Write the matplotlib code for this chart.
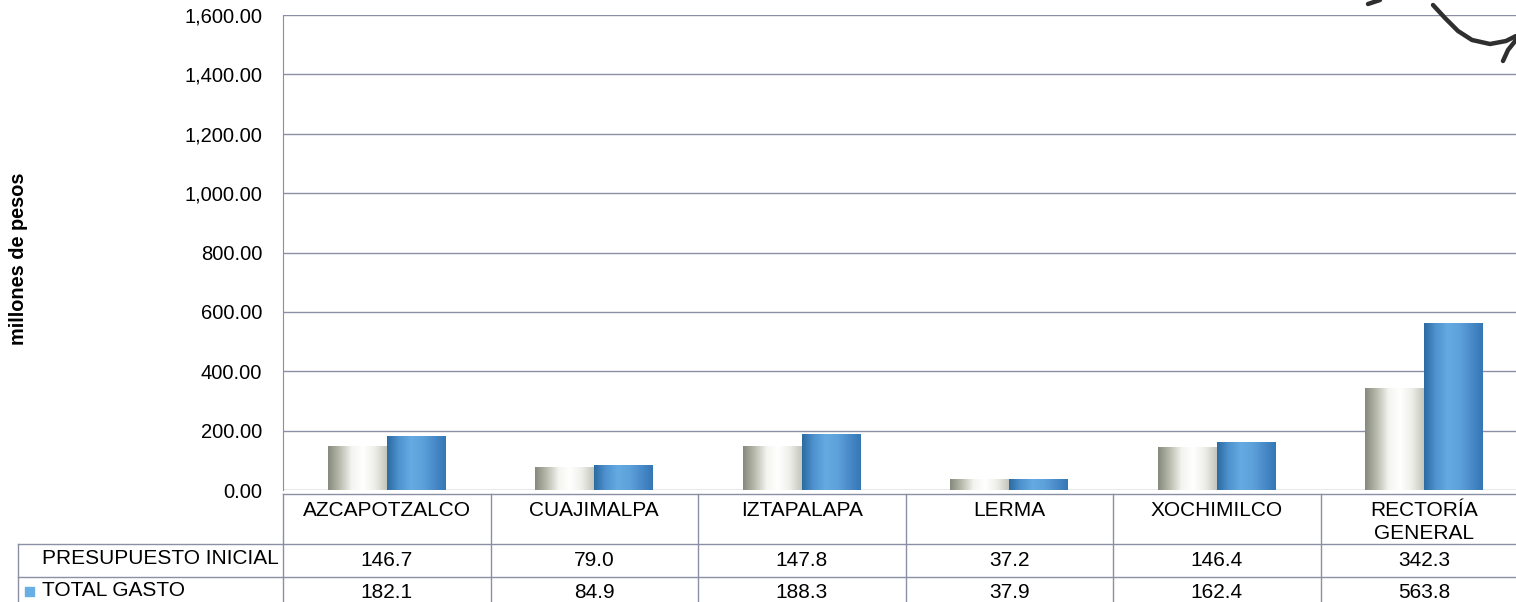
import matplotlib.pyplot as plt
import numpy as np
from matplotlib.colors import LinearSegmentedColormap
from matplotlib.lines import Line2D
from matplotlib.ticker import FuncFormatter, MultipleLocator
from matplotlib.transforms import blended_transform_factory

plt.rcParams['font.family'] = ['Liberation Sans', 'DejaVu Sans']

unidades = ['AZCAPOTZALCO', 'CUAJIMALPA', 'IZTAPALAPA', 'LERMA', 'XOCHIMILCO', 'RECTORÍA\nGENERAL']
presupuesto_inicial = [146.7, 79.0, 147.8, 37.2, 146.4, 342.3]
total_gasto = [182.1, 84.9, 188.3, 37.9, 162.4, 563.8]
series = ['PRESUPUESTO INICIAL', 'TOTAL GASTO']

W, H = 1516, 602
LINE = '#8b8fa6'
FS = 15


def fx(px):
    return px / W


def fy(py):
    return 1 - py / H


fig = plt.figure(figsize=(W / 100, H / 100), dpi=100)
# the plot runs one column past the right edge of the page, like the scan
ax = fig.add_axes([fx(283), fy(490), fx(1245), (490 - 15) / H])

x = np.arange(len(unidades))
bw = 0.284
b1 = ax.bar(x - bw / 2, presupuesto_inicial, bw, color='#e6e7e0', zorder=2)
b2 = ax.bar(x + bw / 2, total_gasto, bw, color='#5a9fd8', zorder=2)

grey_cyl = LinearSegmentedColormap.from_list('gris', ['#868a7c', '#b9bcaf', '#f4f4f0', '#ffffff', '#eeeee9', '#c3c6ba'])
blue_cyl = LinearSegmentedColormap.from_list('azul', ['#2c6aa2', '#4f93cf', '#66aae2', '#5ea2dc', '#4a8cc9', '#3577b4'])


def shade(bar, cmap):
    # horizontal gradient clipped to the bar to give a cylinder look
    x0, w, h = bar.get_x(), bar.get_width(), bar.get_height()
    grad = np.linspace(0, 1, 128)[None, :]
    im = ax.imshow(grad, cmap=cmap, extent=(x0, x0 + w, 0, h), aspect='auto',
                   interpolation='bicubic', zorder=3)
    im.set_clip_path(bar)


for bar in b1:
    shade(bar, grey_cyl)
for bar in b2:
    shade(bar, blue_cyl)

ax.set_xlim(-0.5, len(unidades) - 0.5)
ax.set_ylim(0, 1600)
ax.yaxis.set_major_locator(MultipleLocator(200))
ax.yaxis.set_major_formatter(FuncFormatter(lambda v, p: f'{v:,.2f}'))
ax.tick_params(axis='y', length=0, pad=15, labelsize=14.5)
ax.set_xticks([])
ax.yaxis.grid(True, color=LINE, lw=1.0)
ax.set_axisbelow(True)
for s in ['top', 'right', 'bottom']:
    ax.spines[s].set_visible(False)
ax.spines['left'].set_color(LINE)
fig.text(fx(19), fy(259), 'millones de pesos', rotation=90, ha='center', va='center',
         fontsize=14.3, fontweight='bold')

# data table under the plot
tr = blended_transform_factory(ax.transData, fig.transFigure)
top, r1, r2, bot = fy(494), fy(544), fy(577), fy(610)
edges = np.arange(len(unidades) + 1) - 0.5
fig.add_artist(Line2D([edges[0], edges[-1]], [top, top], transform=tr, color=LINE, lw=1))
for yy in (r1, r2):
    fig.add_artist(Line2D([fx(18), fx(283)], [yy, yy], color=LINE, lw=1))
    fig.add_artist(Line2D([edges[0], edges[-1]], [yy, yy], transform=tr, color=LINE, lw=1))
for e in edges:
    fig.add_artist(Line2D([e, e], [top, bot], transform=tr, color=LINE, lw=1))
fig.add_artist(Line2D([fx(18), fx(18)], [r1, bot], color=LINE, lw=1))

for i, name in enumerate(unidades):
    fig.text(x[i], fy(501), name, transform=tr, ha='center', va='top', fontsize=FS, linespacing=1.25)
    fig.text(x[i], fy(561), f'{presupuesto_inicial[i]:.1f}', transform=tr, ha='center', va='center', fontsize=FS)
    fig.text(x[i], fy(593), f'{total_gasto[i]:.1f}', transform=tr, ha='center', va='center', fontsize=FS)

fig.text(fx(42), fy(559), series[0], ha='left', va='center', fontsize=FS)
fig.text(fx(42), fy(591), series[1], ha='left', va='center', fontsize=FS)
fig.patches.append(plt.Rectangle((fx(25), fy(596)), fx(9), 9 / H, color='#6aaee6',
                                 transform=fig.transFigure, figure=fig))

# pen mark in the top right corner
fig.add_artist(Line2D([fx(1433), fx(1445), fx(1458), fx(1472), fx(1490), fx(1506), fx(1516)],
                      [fy(5), fy(18), fy(31), fy(40), fy(44), fy(41), fy(36)],
                      color='#2f2f2f', lw=3.2, solid_capstyle='round'))
fig.add_artist(Line2D([fx(1503), fx(1508), fx(1516)], [fy(61), fy(50), fy(40)],
                      color='#2f2f2f', lw=3.2, solid_capstyle='round'))
fig.add_artist(Line2D([fx(1368), fx(1380)], [fy(4), fy(0)],
                      color='#2f2f2f', lw=3.2, solid_capstyle='round'))

fig.savefig('out.png', dpi=100)
